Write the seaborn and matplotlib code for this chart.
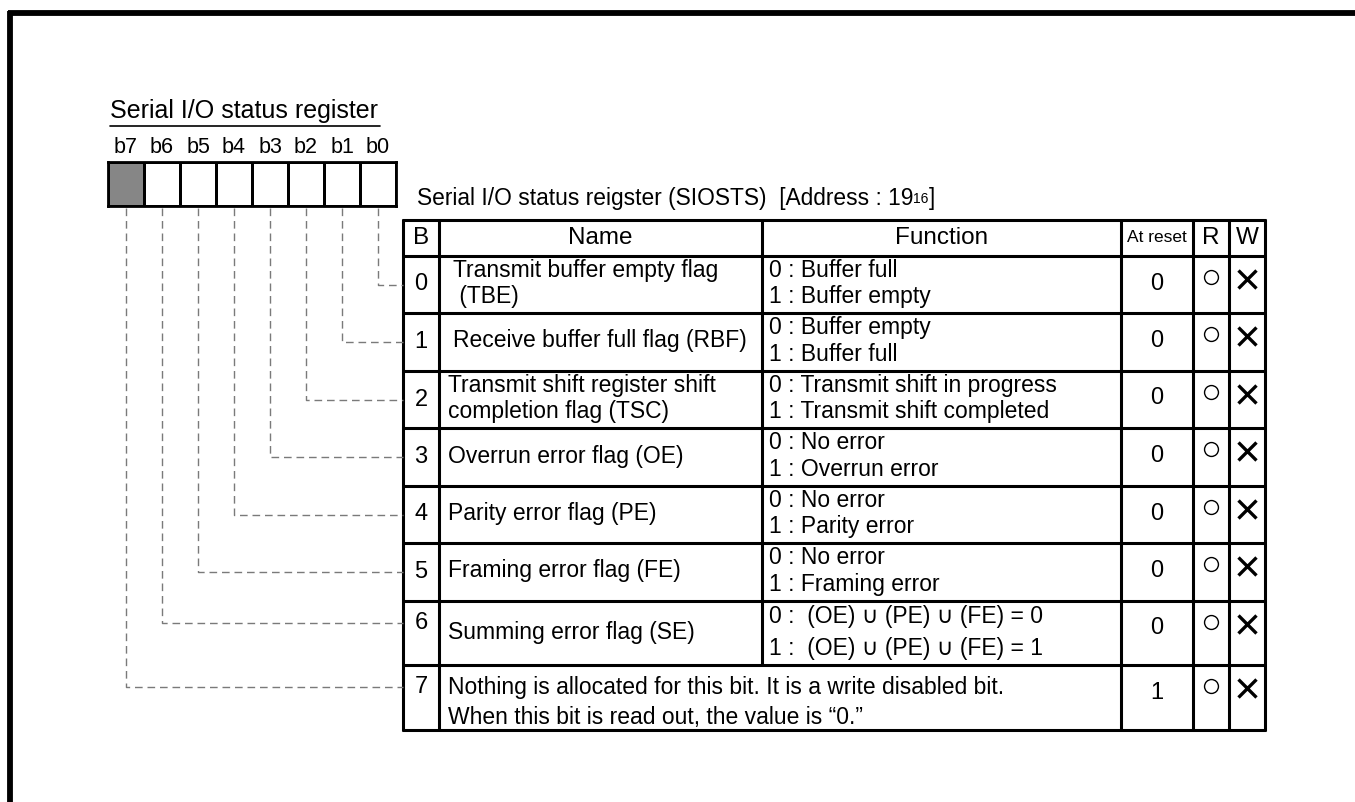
import numpy as np
import matplotlib
matplotlib.use("Agg")
import matplotlib.pyplot as plt
import seaborn as sns
from matplotlib.colors import ListedColormap

# register / table contents
bit_labels = ["b7", "b6", "b5", "b4", "b3", "b2", "b1", "b0"]
reg_fill = [1, 0, 0, 0, 0, 0, 0, 0]   # b7 unused -> shaded
bit_nums = ["0", "1", "2", "3", "4", "5", "6", "7"]
names = [
    "Transmit buffer empty flag\n (TBE)",
    "Receive buffer full flag (RBF)",
    "Transmit shift register shift\ncompletion flag (TSC)",
    "Overrun error flag (OE)",
    "Parity error flag (PE)",
    "Framing error flag (FE)",
    "Summing error flag (SE)",
    "Nothing is allocated for this bit. It is a write disabled bit.\nWhen this bit is read out, the value is \u201c0.\u201d",
]
functions = [
    "0 : Buffer full\n1 : Buffer empty",
    "0 : Buffer empty\n1 : Buffer full",
    "0 : Transmit shift in progress\n1 : Transmit shift completed",
    "0 : No error\n1 : Overrun error",
    "0 : No error\n1 : Parity error",
    "0 : No error\n1 : Framing error",
    "0 :  (OE) \u222a (PE) \u222a (FE) = 0\n1 :  (OE) \u222a (PE) \u222a (FE) = 1",
    "",
]
reset_vals = ["0", "0", "0", "0", "0", "0", "0", "1"]
readable = [True] * 8
writable = [False] * 8
headers = ["B", "Name", "Function", "At reset", "R", "W"]

# layout (pixels, y downwards)
W, H = 1355, 802
row_edges = [220, 256, 313, 371, 428, 486, 543, 601, 665, 730]
col_edges = [403, 439, 762, 1121, 1193, 1229, 1265]
box_left, box_top, box_w, box_h = 108, 162, 36, 44

sns.set_theme(style="white")
plt.rcParams["font.family"] = ["Liberation Sans", "DejaVu Sans"]
plt.rcParams["text.color"] = "black"
plt.rcParams["xtick.color"] = "black"
plt.rcParams["xtick.labelcolor"] = "black"

fig = plt.figure(figsize=(W / 100, H / 100), dpi=100)
ax = fig.add_axes([0, 0, 1, 1])
ax.set_xlim(0, W)
ax.set_ylim(H, 0)
ax.axis("off")

# outer frame (top + left)
ax.plot([8, W], [13, 13], color="black", lw=4.2, solid_capstyle="butt")
ax.plot([10, 10], [11, H], color="black", lw=4.2, solid_capstyle="butt")

# register title
ax.text(110, 118, "Serial I/O status register", fontsize=18, va="baseline", ha="left")
ax.plot([110, 380], [125.5, 125.5], color="black", lw=1.2)

# register boxes as a one-row heatmap
ax_reg = fig.add_axes([box_left / W, 1 - (box_top + box_h) / H, 8 * box_w / W, box_h / H])
sns.heatmap(np.array([reg_fill]), ax=ax_reg, cmap=ListedColormap(["white", "#868686"]),
            vmin=0, vmax=1, cbar=False, linewidths=2.0, linecolor="black",
            xticklabels=bit_labels, yticklabels=False)
ax_reg.xaxis.tick_top()
ax_reg.tick_params(axis="x", length=0, labelsize=15.5, pad=3, labelrotation=0,
                   labelcolor="black")
for sp in ax_reg.spines.values():
    sp.set_visible(True)
    sp.set_linewidth(2.0)
    sp.set_color("black")

# subtitle with subscript 16
t = ax.text(417, 205, "Serial I/O status reigster (SIOSTS)  [Address : 19", fontsize=16.4,
            va="baseline", ha="left")
t2 = ax.annotate("16", xy=(1, 0), xycoords=t, fontsize=10, va="bottom", ha="left",
                 xytext=(0, 3), textcoords="offset points")
ax.annotate("]", xy=(1, 0), xycoords=t2, fontsize=16.4, va="bottom", ha="left",
            xytext=(0, -3), textcoords="offset points")

# table grid
x0, x1 = col_edges[0], col_edges[-1]
for y in row_edges:
    ax.plot([x0 - 1, x1 + 1], [y, y], color="black", lw=2.2, solid_capstyle="butt")
for x in col_edges:
    ybot = row_edges[-2] if x == col_edges[2] else row_edges[-1]
    ax.plot([x, x], [row_edges[0] - 1, ybot + 1], color="black", lw=2.2, solid_capstyle="butt")

# header row
hy = (row_edges[0] + row_edges[1]) / 2
for i, h in enumerate(headers):
    cx = (col_edges[i] + col_edges[i + 1]) / 2
    fs = 12.5 if h == "At reset" else 17.5
    ax.text(cx, hy, h, fontsize=fs, ha="center", va="center")

# body rows
for i in range(8):
    top, bot = row_edges[i + 1], row_edges[i + 2]
    cy = (top + bot) / 2
    tall = (bot - top) > 60
    by = top + 22 if tall else cy
    ax.text(421, by, bit_nums[i], fontsize=17, ha="center", va="center")
    if functions[i]:
        nx = 453 if i < 2 else 448
        ax.text(nx, cy - 1, names[i], fontsize=16.5, ha="left", va="center")
        ax.text(769, cy - 1, functions[i], fontsize=16.5, ha="left", va="center",
                linespacing=1.5 if tall else 1.2)
    else:
        ax.text(448, cy + 5, names[i], fontsize=16.5, ha="left", va="center", linespacing=1.35)
    ry = top + 28 if i == 7 else (top + 27 if tall else cy - 1)
    ax.text(1157, ry, reset_vals[i], fontsize=17, ha="center", va="center")
    if readable[i]:
        ax.plot([1211], [top + 21], marker="o", ms=10, mfc="white", mec="black", mew=1.0)
    if not writable[i]:
        ax.plot([1247], [top + 23], marker="x", ms=13, mec="black", mew=2.4)

    # dashed connector from register bit to table row
    bx = box_left + (7 - i + 0.5) * box_w
    ax.plot([bx, bx, x0], [box_top + box_h + 2, by, by], color="#7a7a7a", lw=1.0,
            ls=(0, (5.5, 3.5)))

fig.savefig("out.png", dpi=100)
